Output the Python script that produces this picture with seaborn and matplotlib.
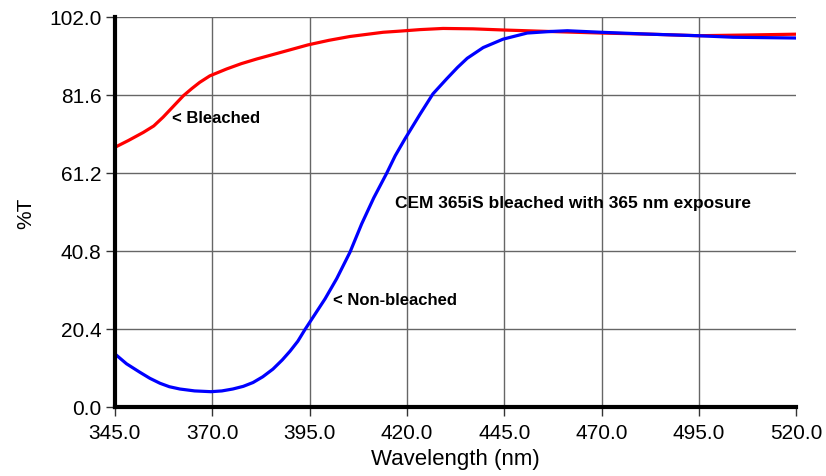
import matplotlib
matplotlib.use("Agg")
import matplotlib.pyplot as plt
import seaborn as sns
import pandas as pd

# Data
bleached_wl = [345.0, 348.5, 352.3, 355.0, 357.4, 360.0, 362.6, 364.8, 366.8, 369.4,
               373.7, 377.5, 381.4, 388.2, 394.6, 400.0, 405.4, 413.9, 418.2, 423.4,
               429.3, 437.0, 444.7, 456.8, 469.9, 482.5, 494.8, 508.2, 520.0]
bleached_t = [67.9, 69.7, 71.8, 73.5, 75.8, 78.6, 81.4, 83.3, 84.9, 86.6,
              88.4, 89.8, 91.0, 92.9, 94.7, 95.9, 96.9, 98.0, 98.3, 98.7,
              99.0, 98.9, 98.6, 98.2, 97.8, 97.5, 97.1, 97.3, 97.5]

nonbleached_wl = [345.0, 348.0, 351.4, 354.0, 356.6, 359.0, 361.7, 365.5, 369.7, 372.5,
                  375.3, 378.0, 380.5, 383.0, 385.6, 388.0, 390.0, 392.0, 393.8, 396.5,
                  399.0, 402.0, 405.4, 408.4, 411.5, 414.8, 417.0, 419.5, 423.4, 426.7,
                  430.2, 433.0, 435.5, 439.6, 444.7, 450.9, 456.8, 461.2, 469.9, 482.5,
                  494.8, 503.8, 520.0]
nonbleached_t = [13.9, 11.3, 9.1, 7.5, 6.2, 5.3, 4.7, 4.2, 4.0, 4.2,
                 4.7, 5.4, 6.4, 7.9, 9.9, 12.3, 14.6, 17.2, 20.2, 24.4,
                 28.3, 33.6, 40.5, 47.9, 54.7, 61.1, 65.7, 70.1, 76.6, 81.9,
                 85.8, 88.8, 91.2, 94.0, 96.2, 97.8, 98.2, 98.4, 98.0, 97.5,
                 97.1, 96.7, 96.5]

x_ticks = [345.0, 370.0, 395.0, 420.0, 445.0, 470.0, 495.0, 520.0]
y_ticks = [0.0, 20.4, 40.8, 61.2, 81.6, 102.0]

df = pd.concat([
    pd.DataFrame({"wl": bleached_wl, "T": bleached_t, "series": "Bleached"}),
    pd.DataFrame({"wl": nonbleached_wl, "T": nonbleached_t, "series": "Non-bleached"}),
])

sns.set_style("white")
plt.rcParams['font.family'] = ['Liberation Sans', 'DejaVu Sans']
plt.rcParams['text.color'] = 'black'
plt.rcParams['axes.labelcolor'] = 'black'
plt.rcParams['xtick.color'] = 'black'
plt.rcParams['ytick.color'] = 'black'

fig = plt.figure(figsize=(8.26, 4.77), dpi=100)
ax = fig.add_axes([0.139, 0.1447, 0.825, 0.8176])

sns.lineplot(data=df, x="wl", y="T", hue="series",
             palette={"Bleached": "#ff0000", "Non-bleached": "#0000ff"},
             linewidth=2.3, legend=False, ax=ax, sort=True, estimator=None)

ax.set_xlim(345, 520)
ax.set_ylim(0, 102)
ax.set_xticks(x_ticks)
ax.set_yticks(y_ticks)
ax.set_xticklabels([f"{v:.1f}" for v in x_ticks], fontsize=15)
ax.set_yticklabels([f"{v:.1f}" for v in y_ticks], fontsize=15)
ax.tick_params(axis="both", which="major", bottom=True, left=True,
               direction="out", length=6.5, width=1, color="#333333",
               labelcolor="black")
ax.tick_params(axis="x", pad=5)
ax.tick_params(axis="y", pad=3)

ax.grid(True, color="#666666", linewidth=1.0)
ax.set_axisbelow(True)
ax.xaxis.get_gridlines()[-1].set_visible(False)

for s in ["top", "right"]:
    ax.spines[s].set_visible(False)
ax.spines["left"].set_linewidth(3)
ax.spines["bottom"].set_linewidth(3)
ax.spines["left"].set_color("black")
ax.spines["bottom"].set_color("black")

ax.set_xlabel("Wavelength (nm)", fontsize=16, labelpad=4, color="black")
ax.set_ylabel("%T", fontsize=15, labelpad=10, color="black")

ax.text(359.6, 75.6, "< Bleached", fontsize=12, fontweight="bold",
        va="center", ha="left", color="black")
ax.text(401.0, 28.2, "< Non-bleached", fontsize=12, fontweight="bold",
        va="center", ha="left", color="black")
ax.text(417.0, 53.6, "CEM 365iS bleached with 365 nm exposure", fontsize=12.5,
        fontweight="bold", va="center", ha="left", color="black")

fig.savefig("out.png", dpi=100)
